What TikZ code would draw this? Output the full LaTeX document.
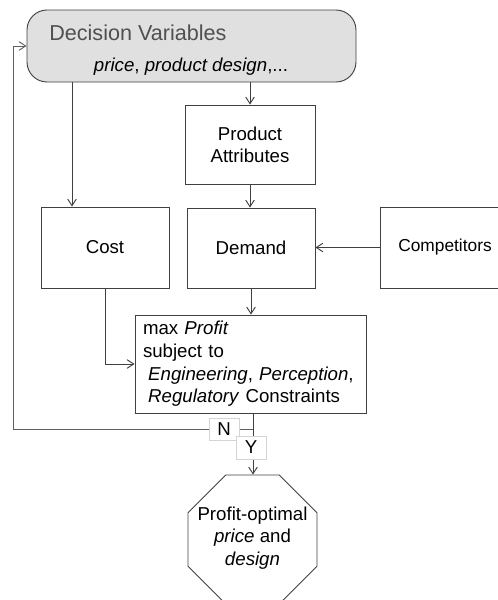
\documentclass[tikz,border=0pt]{standalone}
\usepackage{fontspec}
\setmainfont{Liberation Sans}
\usetikzlibrary{arrows.meta,shapes.geometric}
\definecolor{linegray}{HTML}{404040}
\definecolor{fbgray}{HTML}{606060}
\definecolor{boxfill}{HTML}{E0E0E0}
\definecolor{titlegray}{HTML}{505050}
\definecolor{lblgray}{HTML}{D4D4D4}
\tikzset{
  x=0.75pt, y=-0.75pt,
  box/.style={draw=linegray, line width=0.7pt, inner sep=0pt, align=center,
    font=\fontsize{14}{16.5}\selectfont},
  arr/.style={draw=linegray, line width=0.7pt, -{Straight Barb[length=5pt,width=6.5pt]}},
  plain/.style={draw=fbgray, line width=0.7pt},
  lbl/.style={draw=lblgray, fill=white, line width=0.7pt, inner sep=0pt,
    minimum width=22.5pt, minimum height=16.5pt, font=\fontsize{14}{16}\selectfont}
}
\begin{document}
\begin{tikzpicture}
\useasboundingbox (0,0) rectangle (498,600);
% Decision variables
\node[box, fill=boxfill, rounded corners=15pt, minimum width=246.75pt, minimum height=54pt] (dec) at (191.5,46) {};
\node[anchor=west, inner sep=0pt, text=titlegray, font=\fontsize{16.2}{18}\selectfont] (dectitle) at (49,32.5) {Decision Variables};
\node[anchor=base, inner sep=0pt, font=\fontsize{14}{16}\selectfont] (decsub) at (191,71) {\textit{price}, \textit{product design},...};
% boxes
\node[box, minimum width=97.5pt, minimum height=59.25pt] (pa) at (250,144.5) {Product\\Attributes};
\node[box, minimum width=96pt, minimum height=60.75pt] (cost) at (105,247.5) {Cost};
\node[box, minimum width=96pt, minimum height=60pt] (dem) at (251,248) {Demand};
\node[box, minimum width=97.5pt, minimum height=60.75pt, font=\fontsize{13}{15}\selectfont] (comp) at (445,247.5) {Competitors};
\node[box, minimum width=173.25pt, minimum height=73.5pt, text width=161.25pt, inner xsep=6pt, align=left, font=\fontsize{14}{17}\selectfont] (prof) at (250.5,364)
  {max \textit{Profit}\\subject to\\\hspace*{3.9pt}\textit{Engineering}, \textit{Perception},\\\hspace*{3.9pt}\textit{Regulatory} Constraints};
\node[box, regular polygon, regular polygon sides=8, minimum size=104.7pt] (oct) at (252.5,539.5) {};
\node[inner sep=0pt, align=center, font=\fontsize{14}{17}\selectfont] (octtext) at (252.5,538)
  {Profit-optimal\\\textit{price} and\\\textit{design}};
% helper coordinates
\coordinate (c72) at (72,0);
\coordinate (br) at (253,429);
\coordinate (fb) at (13,429);
% connectors
\draw[arr] (dec.south -| c72) -- (cost.north -| c72);
\draw[arr] (dec.south -| pa) -- (pa.north);
\draw[arr] (pa.south) -- (pa.south |- dem.north);
\draw[arr] (comp.west) -- (dem.east |- comp.west);
\draw[arr] (dem.south) -- (dem.south |- prof.north);
\draw[arr] (cost.south) |- (prof.west);
\draw[arr] (br |- prof.south) -- (br |- oct.north);
\draw[arr, draw=fbgray] (br) -- (fb) |- (dec.west);
% decision labels
\node[lbl] (nlab) at (224,429) {N};
\node[lbl, minimum height=17.25pt] (ylab) at (251,447.5) {Y};
\end{tikzpicture}
\end{document}
